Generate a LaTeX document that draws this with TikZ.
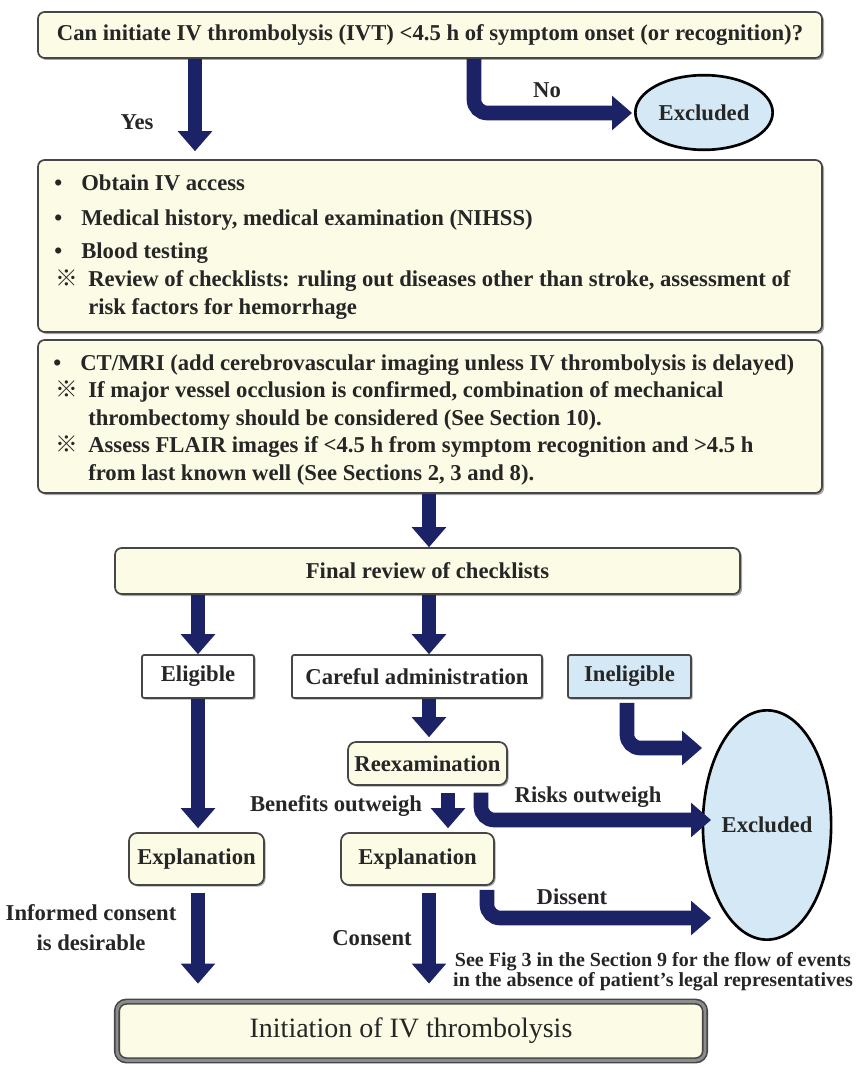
\documentclass[tikz,border=0pt]{standalone}
\usepackage{fontspec}
\setmainfont{Liberation Serif}
\newfontfamily\cjk{Noto Sans CJK JP}
\usetikzlibrary{arrows.meta,shapes.geometric,shadows}
\definecolor{boxfill}{RGB}{252,251,229}
\definecolor{navy}{RGB}{27,35,102}
\definecolor{lblue}{RGB}{212,233,245}
\definecolor{edgec}{RGB}{70,70,70}
\newcommand\mainf{\fontsize{17}{20}\selectfont\bfseries}
\begin{document}
\begin{tikzpicture}[x=0.75pt,y=-0.75pt,
  every node/.style={font=\mainf, text=black!85},
  boxs/.style={draw=edgec, line width=1.3pt, fill=boxfill, rounded corners=5pt,
    drop shadow={shadow xshift=1.5pt, shadow yshift=-1.5pt, fill=black, opacity=0.35}, inner sep=0pt},
  sbox/.style={draw=edgec, line width=1.3pt, fill=white, rounded corners=1.5pt,
    drop shadow={shadow xshift=1.2pt, shadow yshift=-1.2pt, fill=black, opacity=0.35}, inner sep=0pt,
    minimum height=32.25pt},
  rbox/.style={sbox, fill=boxfill, rounded corners=6pt},
  excl/.style={ellipse, draw=black, line width=2pt, fill=lblue, inner sep=0pt},
  bigarrow/.style={draw=navy, line width=11pt,
    -{Triangle[width=26pt,length=15pt,line width=0pt]}, rounded corners=10pt},
  lbl/.style={inner sep=0pt},
  ln/.style={anchor=mid west, inner sep=0pt},
  mk/.style={anchor=mid west, inner sep=0pt}
]
\useasboundingbox (0,0) rectangle (858,1066);

% column x positions
\coordinate (xa) at (195,0);
\coordinate (xb) at (474,0);
\coordinate (xc) at (429,0);
\coordinate (xd) at (198,0);
\coordinate (xe) at (627,0);
\coordinate (xf) at (448,0);
\coordinate (xg) at (481,0);
\coordinate (xh) at (487,0);
\coordinate (noTip) at (632,113);
\coordinate (ineTip) at (702,748);
\coordinate (riskTip) at (711,820);
\coordinate (dissTip) at (711,918);

% top question
\node[boxs, minimum width=588pt, minimum height=34.5pt] (top) at (430,35)
  {Can initiate IV thrombolysis (IVT) <4.5 h of symptom onset (or recognition)?};
\node[excl, minimum width=103pt, minimum height=56pt] (exc1) at (704,112.5) {Excluded};

% box 2
\node[boxs, minimum width=588pt, minimum height=129pt] (box2) at (430,246) {};
\node[mk] (b2m1) at (54,187) {•};
\node[ln] (b2t1) at (81,187) {Obtain IV access};
\node[mk] (b2m2) at (54,222) {•};
\node[ln] (b2t2) at (81,222) {Medical history, medical examination (NIHSS)};
\node[mk] (b2m3) at (54,255) {•};
\node[ln] (b2t3) at (81,255) {Blood testing};
\node[mk] (b2m4) at (55,283) {\cjk ※};
\node[ln] (b2t4) at (88,283) {Review of checklists: ruling out diseases other than stroke, assessment of};
\node[ln] (b2t5) at (88,311) {risk factors for hemorrhage};

% box 3
\node[boxs, minimum width=588pt, minimum height=114.75pt] (box3) at (430,416.5) {};
\node[mk] (b3m1) at (53,367) {•};
\node[ln] (b3t1) at (80,367) {CT/MRI (add cerebrovascular imaging unless IV thrombolysis is delayed)};
\node[mk] (b3m2) at (55,394) {\cjk ※};
\node[ln] (b3t2) at (88,394) {If major vessel occlusion is confirmed, combination of mechanical};
\node[ln] (b3t3) at (88,422) {thrombectomy should be considered (See Section 10).};
\node[mk] (b3m4) at (55,449) {\cjk ※};
\node[ln] (b3t4) at (88,449) {Assess FLAIR images if <4.5 h from symptom recognition and >4.5 h};
\node[ln] (b3t5) at (88,477) {from last known well (See Sections 2, 3 and 8).};

% final review
\node[boxs, minimum width=468.75pt, minimum height=34.5pt] (frev) at (427.5,571) {Final review of checklists};

% second level
\node[sbox, minimum width=84pt] (elig) at (198,676.5) {Eligible};
\node[sbox, minimum width=187.5pt] (care) at (417,676.5) {Careful administration};
\node[sbox, fill=lblue, minimum width=92.25pt] (inel) at (629.5,676.5) {Ineligible};
\node[rbox, minimum width=119.25pt] (reex) at (427.5,763.5) {Reexamination};
\node[rbox, minimum width=101.25pt, minimum height=39pt] (expl1) at (196.5,859) {Explanation};
\node[rbox, minimum width=114.75pt, minimum height=39pt] (expl2) at (417.5,859) {Explanation};
\node[excl, minimum width=83pt, minimum height=172pt] (exc2) at (767,825) {Excluded};

% final
\node[draw=edgec, line width=1.2pt, double=black!45, double distance=2.2pt, fill=boxfill,
  rounded corners=7pt, inner sep=0pt, minimum width=441pt, minimum height=44pt,
  font=\fontsize{21}{24}\selectfont] (init) at (411,1031) {Initiation of IV thrombolysis};

% arrows
\draw[bigarrow, shorten >=6pt] (top.south -| xa) -- (box2.north -| xa);
\draw[bigarrow] (top.south -| xb) |- (noTip);
\draw[bigarrow] (box3.south -| xc) -- (frev.north -| xc);
\draw[bigarrow] (frev.south -| xd) -- (elig.north -| xd);
\draw[bigarrow] (frev.south -| xc) -- (care.north -| xc);
\draw[bigarrow, shorten >=3pt] (elig.south -| xd) -- (expl1.north -| xd);
\draw[bigarrow, shorten >=3pt] (care.south -| xc) -- (reex.north -| xc);
\draw[bigarrow, shorten <=3pt] (inel.south -| xe) |- (ineTip);
\draw[bigarrow, shorten <=5pt, shorten >=3pt] (reex.south -| xf) -- (expl2.north -| xf);
\draw[bigarrow, shorten <=5pt] (reex.south -| xg) |- (riskTip);
\draw[bigarrow, shorten <=5pt, shorten >=13pt] (expl1.south -| xd) -- (init.north -| xd);
\draw[bigarrow, shorten <=5pt, shorten >=13pt] (expl2.south -| xc) -- (init.north -| xc);
\draw[bigarrow, shorten <=3pt] (expl2.south -| xh) |- (dissTip);

% labels
\node[lbl] (lyes) at (137,122) {Yes};
\node[lbl] (lno) at (547,90) {No};
\node[lbl] (lben) at (336,806) {Benefits outweigh};
\node[lbl] (lrisk) at (588,797) {Risks outweigh};
\node[lbl] (ldis) at (572,897) {Dissent};
\node[lbl] (lcon) at (372,938) {Consent};
\node[lbl, align=center] (linf) at (91,928) {Informed consent\\[2.5pt]is desirable};
\node[lbl, align=center, font=\fontsize{15}{15}\selectfont\bfseries] (lsee) at (653,972)
  {See Fig 3 in the Section 9 for the flow of events\\in the absence of patient's legal representatives};
\end{tikzpicture}
\end{document}
